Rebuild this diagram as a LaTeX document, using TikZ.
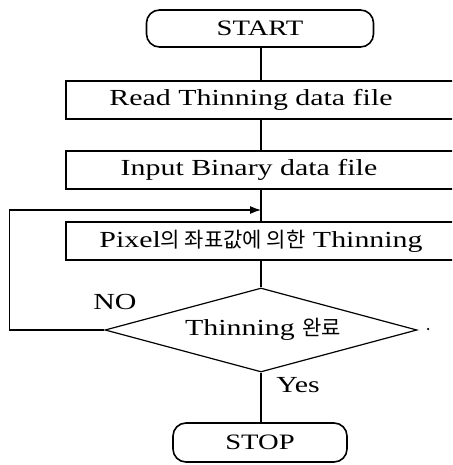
\documentclass[tikz,border=0pt]{standalone}
\usepackage{fontspec}
\setmainfont{Liberation Serif}[FakeStretch=1.3]
\newfontfamily\kr{Noto Sans CJK KR}
\usetikzlibrary{arrows.meta,shapes.geometric}
\begin{document}
\begin{tikzpicture}[x=1pt,y=-1pt,line width=1.2pt,
  term/.style={draw, rounded corners=13pt, line width=1.6pt, inner sep=0pt,
    font=\fontsize{22}{24}\selectfont},
  procbox/.style={draw, inner sep=0pt, minimum width=404pt, minimum height=38pt},
  lbl/.style={inner sep=0pt, font=\fontsize{23}{26}\selectfont},
  decbox/.style={draw, diamond, inner sep=0pt, minimum width=312pt, minimum height=84pt}]
\useasboundingbox (0,0) rectangle (452,465);
\clip (0,0) rectangle (452,465);
% terminals
\node[term, minimum width=227pt, minimum height=37pt] (start) at (260,28.5) {START};
\node[term, minimum width=174pt, minimum height=39pt] (stop) at (260,442.5) {STOP};
% process boxes
\node[procbox] (b1) at (268,100) {};
\node[procbox] (b2) at (268,170) {};
\node[procbox] (b3) at (268,241) {};
\node[lbl] (t1) at (251,100) {Read Thinning data file};
\node[lbl] (t2) at (249,170) {Input Binary data file};
\node[lbl] (t3) at (261,241) {Pixel{\kr\fontsize{21}{26}\selectfont 의 좌표값에 의한} Thinning};
% decision
\node[decbox] (dec) at (261,330) {};
\node[lbl] (tdec) at (263,329) {Thinning {\kr\fontsize{21}{26}\selectfont 완료}};
\node[lbl] (no) at (115,302) {NO};
\node[lbl] (yes) at (298,385) {Yes};
\node[circle, fill, inner sep=0pt, minimum size=2.5pt] (dot) at (428,329) {};
% connectors
\coordinate (join) at (261,210);
\draw (start.south -| 261,0) -- (b1.north -| 261,0);
\draw (b1.south -| 261,0) -- (b2.north -| 261,0);
\draw (b2.south -| 261,0) -- (b3.north -| 261,0);
\draw (b3.south -| 261,0) -- (dec.north);
\draw (dec.south) -- (stop.north -| dec.south);
\draw[-{Latex[length=11pt,width=8pt]}] (dec.west) -- ++(-95,0) |- (join);
\end{tikzpicture}
\end{document}
